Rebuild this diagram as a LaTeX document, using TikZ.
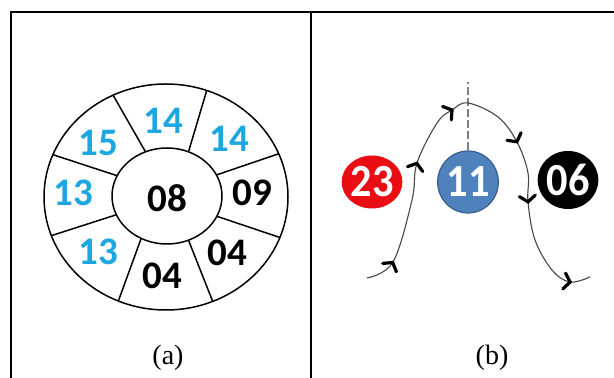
\documentclass[tikz,border=0pt]{standalone}
\usepackage{fontspec}
\setmainfont{Liberation Serif}
\newfontfamily\digitfont{Carlito}
\newfontfamily\balldigits[FakeStretch=0.92]{Carlito}
\usetikzlibrary{
	arrows.meta,
	decorations.markings,
	shapes.geometric,
	positioning
}
\definecolor{CellBlue}{RGB}{28,167,226}
\definecolor{BallRed}{RGB}{232,14,20}
\definecolor{BallBlue}{RGB}{79,129,189}
\definecolor{BallEdge}{RGB}{58,96,142}
\definecolor{PathGray}{RGB}{70,70,70}

\tikzset{
	cell/.style={inner sep=0pt, font=\digitfont\bfseries\fontsize{19.5}{19.5}\selectfont},
	ball/.style={ellipse, inner sep=0pt, text=white,
		font=\balldigits\bfseries\fontsize{23}{23}\selectfont},
	caption/.style={inner sep=0pt, font=\fontsize{14}{14}\selectfont},
	barb/.style={black, line width=1.6pt, line cap=round},
	flow/.style={PathGray, line width=0.55pt, postaction={decorate},
		decoration={markings,
			mark=at position 0.067 with {\draw[barb] (-3pt,4pt) -- (0,0) -- (-3pt,-4pt);},
			mark=at position 0.29 with {\draw[barb] (-3pt,4pt) -- (0,0) -- (-3pt,-4pt);},
			mark=at position 0.432 with {\draw[barb] (-3pt,4pt) -- (0,0) -- (-3pt,-4pt);},
			mark=at position 0.612 with {\draw[barb] (-3pt,4pt) -- (0,0) -- (-3pt,-4pt);},
			mark=at position 0.747 with {\draw[barb] (-3pt,4pt) -- (0,0) -- (-3pt,-4pt);},
			mark=at position 0.955 with {\draw[barb] (-3pt,4pt) -- (0,0) -- (-3pt,-4pt);}}}
}

\begin{document}
\begin{tikzpicture}[x=0.5pt, y=-0.5pt]
	\useasboundingbox (0,0) rectangle (614,378);
	% frame
	\draw[line width=1pt] (11,378) -- (11,12) -- (614,12);
	\draw[line width=1pt] (311,12) -- (311,378);

	% (a) ring of cells
	\begin{scope}[line width=0.75pt]
		\draw (166,197) ellipse [x radius=122, y radius=113];
		\draw (167,196) ellipse [x radius=55, y radius=48];
		\foreach \tin/\tout in {113/115.7, 67/70.5, 26/22.5, -25/-21, -67/-67.5, -118/-113, -157/-160, 155/158}
			\draw ({167+55*cos(\tin)},{196-48*sin(\tin)}) -- ({166+122*cos(\tout)},{197-113*sin(\tout)});
	\end{scope}
	\node[cell] (c08) at (167,198) {08};
	\node[cell, CellBlue] (top) at (163,121) {14};
	\node[cell, CellBlue] (upright) at (229,139) {14};
	\node[cell, CellBlue] (upleft) at (98,143) {15};
	\node[cell, CellBlue] (left) at (73,193) {13};
	\node[cell] (right) at (252,193) {09};
	\node[cell, CellBlue] (lowleft) at (98,252) {13};
	\node[cell] (bottom) at (162,276) {04};
	\node[cell] (lowright) at (227,253) {04};
	\node[caption] (capa) at (168,358) {(a)};

	% (b) three players and the path
	\node[ball, fill=BallRed, minimum width=27pt, minimum height=26.5pt] (n23) at (372,182) {23};
	\node[ball, fill=BallBlue, draw=BallEdge, line width=0.6pt, minimum width=26pt, minimum height=31pt] (n11) at (468,182) {11};
	\node[ball, fill=black, minimum width=27pt, minimum height=29pt] (n06) at (568,180) {06};
	\coordinate (axis) at (468,82);
	\draw[gray, line width=0.6pt, dash pattern=on 4pt off 1.5pt] (n11.north) -- (axis);
	\draw[flow] plot[smooth, tension=0.6] coordinates {(367,278) (393,262) (412,200) (417,163) (437,123) (452,110) (468,103) (498,117) (517,142) (528,173) (528,202) (535,240) (552,270) (570,282) (590,277)};
	\node[caption] (capb) at (492,358) {(b)};
\end{tikzpicture}
\end{document}
